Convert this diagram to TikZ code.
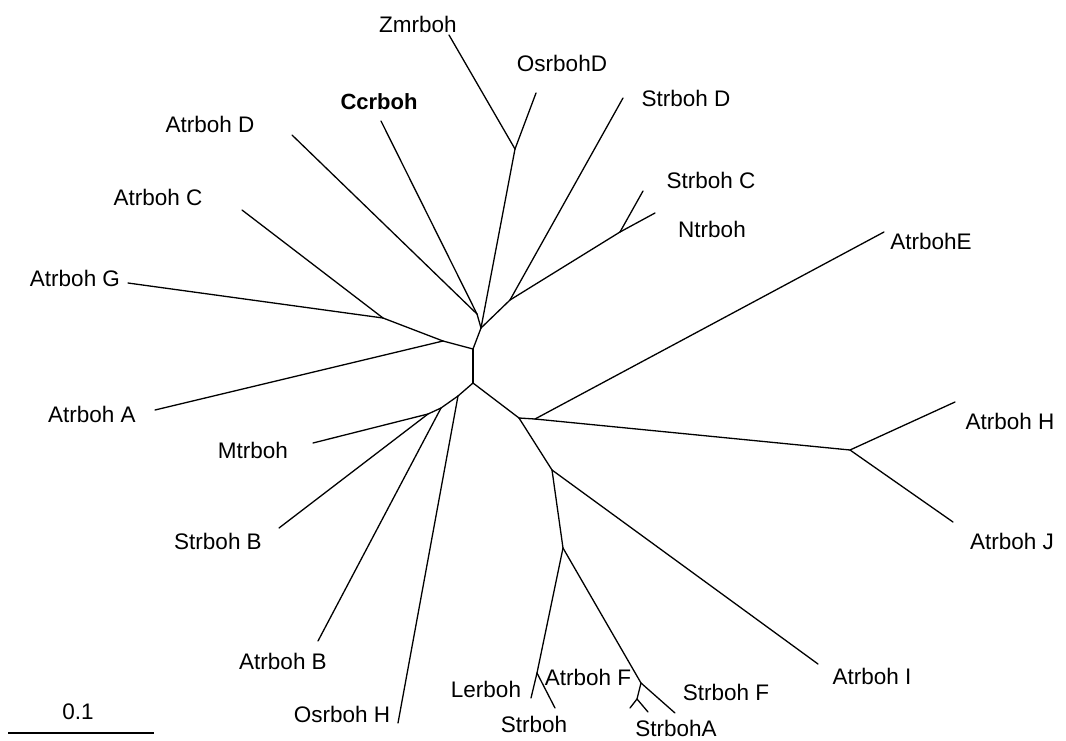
\documentclass[tikz,border=0pt]{standalone}
\usepackage{fontspec}
\setmainfont{Liberation Sans}
\begin{document}
\begin{tikzpicture}[x=1pt,y=-1pt,
  br/.style={line width=1.3pt, black, line cap=round, line join=round},
  lab/.style={font=\fontsize{22.5}{25}\selectfont, inner sep=0pt, anchor=center},
  blab/.style={font=\fontsize{22}{25}\selectfont\bfseries, inner sep=0pt, anchor=center}]
\useasboundingbox (0,0) rectangle (1066,740);
% internal nodes
\coordinate (T) at (473,349);
\coordinate (B) at (473,383);
\coordinate (A1) at (443,341);
\coordinate (G1) at (383,318);
\coordinate (U1) at (481,328);
\coordinate (U3) at (477,314);
\coordinate (Z) at (515,149);
\coordinate (U2) at (510,300);
\coordinate (CN) at (620,232);
\coordinate (N1) at (458,396);
\coordinate (N2) at (441,408);
\coordinate (N3) at (428,414);
\coordinate (R1) at (519,418);
\coordinate (RE) at (535,419);
\coordinate (HJ) at (850,450);
\coordinate (R3) at (552,470);
\coordinate (R4) at (563,548);
\coordinate (L) at (537,673);
\coordinate (F) at (641,683);
\coordinate (FA) at (637,699);
% leaves
\coordinate (lZm) at (449,35);
\coordinate (lOsD) at (536,93);
\coordinate (lCc) at (381,121);
\coordinate (lAtD) at (292,135);
\coordinate (lAtC) at (242,210);
\coordinate (lAtG) at (128,283);
\coordinate (lAtA) at (155,410);
\coordinate (lStD) at (623,98);
\coordinate (lStC) at (643,191);
\coordinate (lNt) at (655,213);
\coordinate (lAtE) at (884,232);
\coordinate (lAtH) at (955,402);
\coordinate (lAtJ) at (953,522);
\coordinate (lAtI) at (818,664);
\coordinate (lMt) at (313,443);
\coordinate (lStB) at (279,528);
\coordinate (lAtB) at (318,641);
\coordinate (lOsH) at (398,723);
\coordinate (lLe) at (531,698);
\coordinate (lSt) at (555,708);
\coordinate (lStF) at (675,713);
\coordinate (lFa) at (630,708);
\coordinate (lFb) at (648,712);
% branches
\draw[br] (T) -- (B);
\draw[br] (T) -- (A1);
\draw[br] (A1) -- (G1);
\draw[br] (G1) -- (lAtG);
\draw[br] (G1) -- (lAtC);
\draw[br] (A1) -- (lAtA);
\draw[br] (T) -- (U1);
\draw[br] (U1) -- (U3);
\draw[br] (U3) -- (lAtD);
\draw[br] (U3) -- (lCc);
\draw[br] (U1) -- (Z);
\draw[br] (Z) -- (lZm);
\draw[br] (Z) -- (lOsD);
\draw[br] (U1) -- (U2);
\draw[br] (U2) -- (lStD);
\draw[br] (U2) -- (CN);
\draw[br] (CN) -- (lStC);
\draw[br] (CN) -- (lNt);
\draw[br] (B) -- (N1);
\draw[br] (N1) -- (lOsH);
\draw[br] (N1) -- (N2);
\draw[br] (N2) -- (lAtB);
\draw[br] (N2) -- (N3);
\draw[br] (N3) -- (lMt);
\draw[br] (N3) -- (lStB);
\draw[br] (B) -- (R1);
\draw[br] (R1) -- (RE);
\draw[br] (RE) -- (lAtE);
\draw[br] (RE) -- (HJ);
\draw[br] (HJ) -- (lAtH);
\draw[br] (HJ) -- (lAtJ);
\draw[br] (R1) -- (R3);
\draw[br] (R3) -- (lAtI);
\draw[br] (R3) -- (R4);
\draw[br] (R4) -- (L);
\draw[br] (L) -- (lLe);
\draw[br] (L) -- (lSt);
\draw[br] (R4) -- (F);
\draw[br] (F) -- (lStF);
\draw[br] (F) -- (FA);
\draw[br] (FA) -- (lFa);
\draw[br] (FA) -- (lFb);
% labels
\node[lab] (tZm) at (418,24) {Zmrboh};
\node[lab] (tOsD) at (562,63) {OsrbohD};
\node[blab] (tCc) at (379,102) {Ccrboh};
\node[lab] (tStD) at (686,98) {Strboh D};
\node[lab] (tAtD) at (210,124) {Atrboh D};
\node[lab] (tStC) at (711,180) {Strboh C};
\node[lab] (tAtC) at (158,197) {Atrboh C};
\node[lab] (tNt) at (712,229) {Ntrboh};
\node[lab] (tAtE) at (931,241) {AtrbohE};
\node[lab] (tAtG) at (75,278) {Atrboh G};
\node[lab] (tAtA) at (92,414) {Atrboh A};
\node[lab] (tAtH) at (1010,421) {Atrboh H};
\node[lab] (tMt) at (253,450) {Mtrboh};
\node[lab] (tStB) at (218,541) {Strboh B};
\node[lab] (tAtJ) at (1012,541) {Atrboh J};
\node[lab] (tAtB) at (283,661) {Atrboh B};
\node[lab] (tAtI) at (872,676) {Atrboh I};
\node[lab] (tAtF) at (588,677) {Atrboh F};
\node[lab] (tLe) at (486,689) {Lerboh};
\node[lab] (tStF) at (726,692) {Strboh F};
\node[lab] (tOsH) at (342,714) {Osrboh H};
\node[lab] (tSt) at (534,724) {Strboh};
\node[lab] (tStA) at (676,728) {StrbohA};
\node[lab] (tScale) at (78,712) {0.1};
% scale bar
\coordinate (s1) at (8,733);
\coordinate (s2) at (154,733);
\draw[line width=1.3pt] (s1) -- (s2);
\end{tikzpicture}
\end{document}
